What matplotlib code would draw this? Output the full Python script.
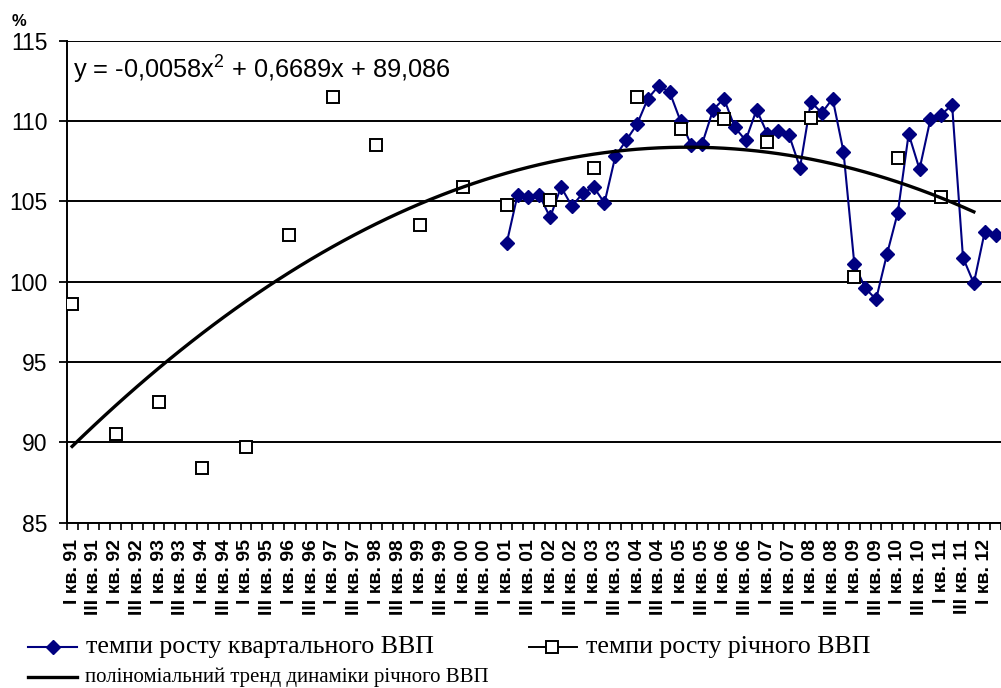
import numpy as np
import matplotlib
matplotlib.use("Agg")
import matplotlib.pyplot as plt
from matplotlib.lines import Line2D

plt.rcParams["mathtext.fontset"] = "custom"
plt.rcParams["mathtext.rm"] = "Liberation Sans"
plt.rcParams["mathtext.it"] = "Liberation Sans"

# categories: quarters from I 91 to II 12
years = ["91", "92", "93", "94", "95", "96", "97", "98", "99", "00",
         "01", "02", "03", "04", "05", "06", "07", "08", "09", "10", "11", "12"]
quarters = ["I", "II", "III", "IV"]
categories = [q + " кв. " + y for y in years for q in quarters][:86]

# annual GDP growth, plotted at the I quarter of each year (91..11)
annual_pos = list(range(0, 84, 4))
annual_vals = [98.6, 90.5, 92.5, 88.4, 89.7, 102.9, 111.5, 108.5, 103.5, 105.9,
               104.8, 105.1, 107.1, 111.5, 109.5, 110.1, 108.7, 110.2, 100.3, 107.7, 105.3]

# quarterly GDP growth, I 01 .. II 12
quarter_start = 40
quarter_vals = [102.4, 105.4, 105.3, 105.4, 104.0, 105.9, 104.7, 105.5, 105.9, 104.9,
                107.8, 108.8, 109.8, 111.4, 112.2, 111.8, 110.0, 108.5, 108.6, 110.7,
                111.4, 109.6, 108.8, 110.7, 109.2, 109.4, 109.1, 107.1, 111.2, 110.5,
                111.4, 108.1, 101.1, 99.6, 98.9, 101.7, 104.3, 109.2, 107.0, 110.1,
                110.4, 111.0, 101.5, 99.9, 103.1, 102.9]

# polynomial trend shown on the chart (x = category number)
trend_coef = [-0.0058, 0.6689, 89.086]
trend_len = 84

yticks = [85, 90, 95, 100, 105, 110, 115]

W, H = 1001, 688
fig = plt.figure(figsize=(W / 100, H / 100), dpi=100)
ax = fig.add_axes([66.7 / W, 1 - 522.7 / H, 1 - 66.7 / W, (522.7 - 40.7) / H])

qx = np.arange(quarter_start, quarter_start + len(quarter_vals))
ax.plot(qx, quarter_vals, color="#000080", lw=1.5, marker="D", ms=7,
        mfc="#000080", mec="#000080", zorder=3, clip_on=False)
ax.plot(annual_pos, annual_vals, ls="none", marker="s", ms=8.5, mfc="white",
        mec="black", mew=1.4, zorder=4)
tx = np.arange(trend_len)
ax.plot(tx, np.polyval(trend_coef, tx + 1), color="black", lw=2.4, zorder=5)

ax.set_xlim(-0.5, 85.15)
ax.set_ylim(85, 115)
ax.set_yticks(yticks)
ax.set_yticklabels([str(v) for v in yticks], fontsize=16.5, family="Liberation Sans")
ax.yaxis.grid(True, color="black", lw=1.4)
ax.set_axisbelow(True)
for s in ["top", "right"]:
    ax.spines[s].set_visible(False)
ax.spines["left"].set_linewidth(1.4)
ax.spines["bottom"].set_linewidth(1.4)
ax.tick_params(axis="y", length=6, width=1.3, pad=8)

lab_pos = list(range(0, len(categories), 2))
ax.set_xticks(lab_pos)
ax.set_xticklabels([categories[i] for i in lab_pos], rotation=90, fontsize=14,
                   fontweight="bold", family="Liberation Sans", va="top")
ax.set_xticks(np.arange(-0.5, len(categories), 1), minor=True)
ax.tick_params(axis="x", which="major", length=0, pad=12)
ax.tick_params(axis="x", which="minor", length=5, width=1.2)

fig.text(73 / W, 1 - 70 / H, "y = -0,0058x$^2$ + 0,6689x + 89,086", fontsize=18.3,
         family="Liberation Sans", va="center", ha="left")
fig.text(19 / W, 1 - 22 / H, "%", fontsize=12, fontweight="bold",
         family="Liberation Sans", va="center", ha="center")

# legend
def fy(y):
    return 1 - y / H

fig.add_artist(Line2D([28 / W, 77 / W], [fy(647)] * 2, color="#000080", lw=1.5))
fig.add_artist(Line2D([53 / W], [fy(647)], marker="D", ms=7, color="#000080", ls="none"))
fig.text(86 / W, fy(647), "темпи росту квартального ВВП", fontsize=18.7,
         family="Liberation Serif", va="center")
fig.add_artist(Line2D([529 / W, 577 / W], [fy(647)] * 2, color="black", lw=1.4))
fig.add_artist(Line2D([552 / W], [fy(647)], marker="s", ms=8.5, mfc="white",
                      mec="black", mew=1.4, ls="none"))
fig.text(586 / W, fy(647), "темпи росту річного ВВП", fontsize=18.7,
         family="Liberation Serif", va="center")
fig.add_artist(Line2D([28 / W, 77 / W], [fy(677)] * 2, color="black", lw=2.4))
fig.text(85 / W, fy(677), "поліноміальний тренд динаміки річного ВВП", fontsize=15,
         family="Liberation Serif", va="center")

fig.savefig("out.png", dpi=100)
